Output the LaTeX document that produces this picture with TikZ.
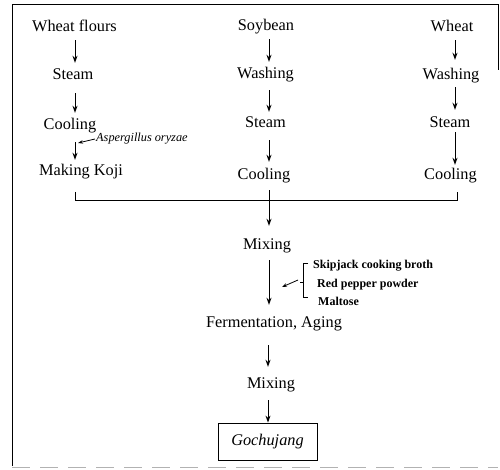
\documentclass[tikz,border=0pt]{standalone}
\usepackage{fontspec}
\setmainfont{Liberation Serif}
\usetikzlibrary{arrows.meta,calc}
\begin{document}
\begin{tikzpicture}[x=1pt,y=-1pt,
  lbl/.style={inner sep=0pt,anchor=base,text height=12pt,text depth=4pt,font=\fontsize{16.3}{18}\selectfont},
  side/.style={inner sep=0pt,anchor=base west,font=\fontsize{12}{14}\selectfont\bfseries},
  arr/.style={line width=1pt,-{Stealth[length=7pt,width=5pt]}},
  ln/.style={line width=0.8pt}]
\useasboundingbox (0,0) rectangle (500,470);
% frame
\draw[line width=0.8pt] (12,466) -- (12,4) -- (498,4) -- (498,70);
\draw[line width=0.8pt,gray!60,dash pattern=on 18pt off 10pt] (12,467) -- (498,467);
% column x positions
\coordinate (xL) at (75,0);
\coordinate (xM) at (269,0);
\coordinate (xR) at (455,0);
% left column
\node[lbl] (wf) at (74.5,32) {Wheat flours};
\node[lbl] (st1) at (73,80) {Steam};
\node[lbl] (co1) at (70,130) {Cooling};
\node[lbl] (mk) at (81,176) {Making Koji};
% middle column
\node[lbl] (sb) at (266,31) {Soybean};
\node[lbl] (wa2) at (265.5,79) {Washing};
\node[lbl] (st2) at (265.5,128) {Steam};
\node[lbl] (co2) at (264,180) {Cooling};
% right column
\node[lbl] (wh) at (452,32) {Wheat};
\node[lbl] (wa3) at (451,80) {Washing};
\node[lbl] (st3) at (450,128) {Steam};
\node[lbl] (co3) at (450.5,180) {Cooling};
% lower chain
\node[lbl] (mx1) at (267,250) {Mixing};
\node[lbl] (fa) at (274,327) {Fermentation, Aging};
\node[lbl] (mx2) at (271,388) {Mixing};
\node[draw,line width=0.8pt,minimum width=99pt,minimum height=37pt,inner sep=0pt,text height=12pt,text depth=4pt,font=\fontsize{16.3}{18}\selectfont\itshape] (go) at (267.5,441.5) {Gochujang};
% additives
\node[inner sep=0pt,anchor=base west,font=\fontsize{12.3}{14}\selectfont\itshape] (asp) at (96,142) {Aspergillus oryzae};
\node[side] (sk) at (313,268) {Skipjack cooking broth};
\node[side] (rp) at (317,287) {Red pepper powder};
\node[side] (ma) at (318,305) {Maltose};
% arrows left
\draw[arr,shorten <=4pt,shorten >=5pt] (xL |- wf.south) -- (xL |- st1.north);
\draw[arr,shorten <=9pt,shorten >=5pt] (xL |- st1.south) -- (xL |- co1.north);
\draw[arr,shorten <=8pt,shorten >=4pt] (xL |- co1.south) -- (xL |- mk.north);
% arrows middle
\draw[arr,shorten <=4pt,shorten >=5pt] (xM |- sb.south) -- (xM |- wa2.north);
\draw[arr,shorten <=7pt,shorten >=4pt] (xM |- wa2.south) -- (xM |- st2.north);
\draw[arr,shorten <=8pt,shorten >=6pt] (xM |- st2.south) -- (xM |- co2.north);
% arrows right
\draw[arr,shorten <=4pt,shorten >=8pt] (xR |- wh.south) -- (xR |- wa3.north);
\draw[arr,shorten <=3pt,shorten >=6pt] (xR |- wa3.south) -- (xR |- st3.north);
\draw[arr,shorten <=0pt,shorten >=3pt] (xR |- st3.south) -- (xR |- co3.north);
% bracket joining columns
\coordinate (bl) at (75,192);
\coordinate (br) at (457,192);
\draw[ln] (bl) -- ++(0,8) -- ($(br)+(0,8)$) -- (br);
% to mixing
\draw[arr,shorten <=6pt,shorten >=12pt] (xM |- co2.south) -- (xM |- mx1.north);
\draw[arr,shorten <=6pt,shorten >=10pt] (xM |- mx1.south) -- (xM |- fa.north);
\draw[arr,shorten <=14pt,shorten >=9pt] ([xshift=-1pt]xM |- fa.south) -- ([xshift=-1pt]xM |- mx2.north);
\draw[arr,shorten <=8pt] ([xshift=-1pt]xM |- mx2.south) -- ([xshift=-1pt]xM |- go.north);
% aspergillus arrow
\coordinate (aa) at (95,139);
\draw[ln,-{Stealth[length=5pt,width=3.5pt]}] (aa) -- (78,143);
% brace for additives
\coordinate (bt) at (308,263);
\coordinate (bb) at (308,297);
\draw[ln] (bt) -- (303,263) -- (303,297) -- (bb);
\draw[ln] (303,282) -- (300,282);
\coordinate (ba) at (298,280);
\draw[ln,-{Stealth[length=5pt,width=3.5pt]}] (ba) -- (282,287);
\end{tikzpicture}
\end{document}
